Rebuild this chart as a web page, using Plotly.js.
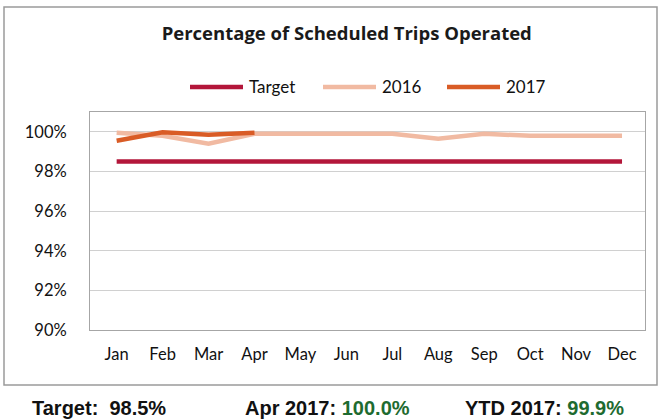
<!DOCTYPE html>
<html>
<head>
<meta charset="utf-8">
<script src="https://cdn.plot.ly/plotly-3.0.1.min.js"></script>
<style>html,body{margin:0;padding:0;background:#fff;}#chart{width:663px;height:419px;}</style>
</head>
<body>
<div id="chart"></div>
<script>
const months = ["Jan","Feb","Mar","Apr","May","Jun","Jul","Aug","Sep","Oct","Nov","Dec"];
const target = [98.5,98.5,98.5,98.5,98.5,98.5,98.5,98.5,98.5,98.5,98.5,98.5];
const y2016 = [99.95,99.8,99.4,99.9,99.9,99.9,99.9,99.65,99.9,99.8,99.8,99.8];
const y2017 = [99.55,99.98,99.85,99.95];
const months2017 = months.slice(0, y2017.length);
const yTicks = [90,92,94,96,98,100];
const yTickText = ["90%","92%","94%","96%","98%","100%"];
const seriesNames = ["Target","2016","2017"];
const seriesColors = ["#b3163a","#f1baa2","#d95c26"];
const summaryTarget = "Target:  98.5%";
const summaryApr = ["Apr 2017: ", "100.0%"];
const summaryYtd = ["YTD 2017: ", "99.9%"];

const traces = [
  {x: months, y: target, name: seriesNames[0], type: "scatter", mode: "lines",
   line: {color: seriesColors[0], width: 4.5}},
  {x: months, y: y2016, name: seriesNames[1], type: "scatter", mode: "lines",
   line: {color: seriesColors[1], width: 4.5}},
  {x: months2017, y: y2017, name: seriesNames[2], type: "scatter", mode: "lines",
   line: {color: seriesColors[2], width: 4.5}}
];

// plot-area geometry (pixels) for placing legend / summary in paper coords
const PL = 90, PW = 555, PB = 330, PH = 218;
const px = v => (v - PL) / PW;
const py = v => (PB - v) / PH;

const green = "#1e6b30";
const legendStarts = [190, 323, 447];
const legendLineLen = 53;
const legendY = py(87);

const shapes = [
  {type: "rect", xref: "paper", yref: "paper",
   x0: px(4), x1: px(657), y0: py(385), y1: py(7),
   line: {color: "#9a9a9a", width: 1.5}, fillcolor: "rgba(0,0,0,0)", layer: "below"}
];
const annotations = [];
seriesNames.forEach((n, i) => {
  shapes.push({type: "line", xref: "paper", yref: "paper",
    x0: px(legendStarts[i]), x1: px(legendStarts[i] + legendLineLen), y0: legendY, y1: legendY,
    line: {color: seriesColors[i], width: 4.5}});
  annotations.push({xref: "paper", yref: "paper", x: px(legendStarts[i] + legendLineLen + 4), y: legendY,
    xanchor: "left", yanchor: "middle", showarrow: false, text: n,
    font: {family: "Lato, sans-serif", size: 17, color: "#111"}});
});
const sumFont = {family: "'Liberation Sans', Arial, sans-serif", size: 20, color: "#111"};
annotations.push(
  {xref: "paper", yref: "paper", x: px(30), y: py(408), xanchor: "left", yanchor: "middle",
   showarrow: false, text: "<b>" + summaryTarget + "</b>", font: sumFont},
  {xref: "paper", yref: "paper", x: px(243), y: py(408), xanchor: "left", yanchor: "middle",
   showarrow: false, text: "<b>" + summaryApr[0] + "<span style='color:" + green + "'>" + summaryApr[1] + "</span></b>", font: sumFont},
  {xref: "paper", yref: "paper", x: px(463), y: py(408), xanchor: "left", yanchor: "middle",
   showarrow: false, text: "<b>" + summaryYtd[0] + "<span style='color:" + green + "'>" + summaryYtd[1] + "</span></b>", font: sumFont}
);

const layout = {
  width: 663, height: 419,
  margin: {l: 90, r: 18, t: 112, b: 89},
  paper_bgcolor: "#ffffff", plot_bgcolor: "#ffffff",
  font: {family: "Lato, 'Open Sans', sans-serif", color: "#111", size: 16},
  title: {text: "<b>Percentage of Scheduled Trips Operated</b>",
          font: {family: "'Open Sans', sans-serif", size: 18.5, color: "#1a1a1a"},
          x: 0.523, xanchor: "center", y: 0.921, yanchor: "middle", xref: "container", yref: "container"},
  showlegend: false,
  xaxis: {type: "category", categoryorder: "array", categoryarray: months,
          range: [-0.58, 11.5], showgrid: false, zeroline: false,
          showline: true, mirror: true, linecolor: "#a6a6a6", linewidth: 1,
          ticks: "", tickfont: {size: 16.5, color: "#111"}, ticklabelstandoff: 9, fixedrange: true},
  yaxis: {range: [90, 101], tickvals: yTicks, ticktext: yTickText,
          showgrid: true, gridcolor: "#d0d0d0", gridwidth: 1, zeroline: false,
          showline: true, mirror: true, linecolor: "#a6a6a6", linewidth: 1,
          ticks: "", tickfont: {size: 16.5, color: "#111"}, ticklabelstandoff: 19, fixedrange: true},
  shapes: shapes,
  annotations: annotations
};

Plotly.newPlot("chart", traces, layout, {displayModeBar: false, staticPlot: true});
</script>
</body>
</html>
